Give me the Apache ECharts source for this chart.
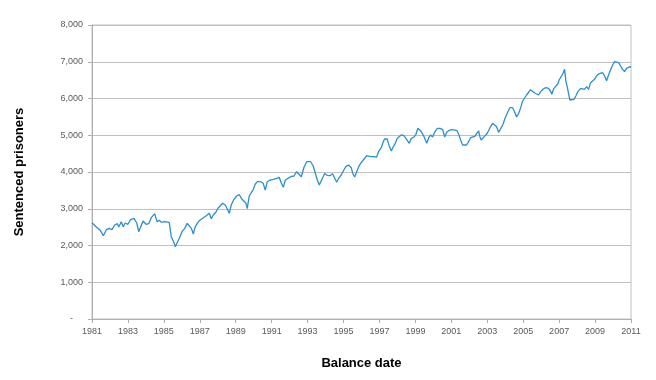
<!DOCTYPE html>
<html>
<head>
<meta charset="utf-8">
<script src="https://cdn.jsdelivr.net/npm/echarts@6/dist/echarts.min.js"></script>
<style>html,body{margin:0;padding:0;background:#fff}#c{width:656px;height:380px}</style>
</head>
<body>
<div id="c"></div>
<script>
// Balance dates (decimal years)
var dates = [
1981.00,1981.11,1981.28,1981.45,1981.63,1981.80,1981.96,1982.11,1982.26,1982.41,1982.49,1982.63,1982.74,1982.85,
1983.00,1983.15,1983.34,1983.49,1983.60,1983.71,1983.84,1984.01,1984.16,1984.30,1984.49,1984.62,1984.75,1984.86,
1985.05,1985.12,1985.30,1985.41,1985.52,1985.64,1985.75,1985.86,1986.01,1986.16,1986.30,1986.41,1986.53,1986.64,
1986.75,1986.86,1986.97,1987.16,1987.34,1987.53,1987.64,1987.75,1987.90,1988.01,1988.12,1988.27,1988.42,1988.53,
1988.64,1988.75,1988.90,1989.05,1989.20,1989.35,1989.46,1989.57,1989.64,1989.75,1989.86,1989.98,1990.09,1990.20,
1990.39,1990.53,1990.64,1990.76,1990.91,1991.09,1991.28,1991.42,1991.53,1991.65,1991.76,1991.91,1992.06,1992.24,
1992.39,1992.50,1992.65,1992.80,1992.95,1993.06,1993.17,1993.31,1993.43,1993.54,1993.65,1993.80,1993.95,1994.09,
1994.24,1994.39,1994.50,1994.62,1994.73,1994.87,1995.02,1995.13,1995.28,1995.43,1995.51,1995.62,1995.73,1995.87,
1996.02,1996.18,1996.29,1996.39,1996.51,1996.58,1996.69,1996.84,1996.95,1997.10,1997.21,1997.29,1997.43,1997.54,
1997.66,1997.77,1997.88,1997.99,1998.10,1998.21,1998.36,1998.47,1998.58,1998.66,1998.77,1998.92,1999.03,1999.14,
1999.21,1999.33,1999.48,1999.63,1999.74,1999.85,1999.96,2000.07,2000.22,2000.37,2000.52,2000.63,2000.74,2000.88,
2001.03,2001.14,2001.30,2001.41,2001.52,2001.63,2001.74,2001.85,2001.96,2002.07,2002.18,2002.30,2002.40,2002.52,
2002.59,2002.66,2002.78,2002.89,2003.00,2003.15,2003.30,2003.41,2003.52,2003.63,2003.74,2003.86,2004.00,2004.15,
2004.26,2004.41,2004.52,2004.63,2004.75,2004.86,2004.97,2005.08,2005.19,2005.30,2005.41,2005.52,2005.64,2005.75,
2005.86,2005.97,2006.11,2006.26,2006.41,2006.52,2006.59,2006.71,2006.82,2006.93,2007.00,2007.12,2007.23,2007.30,
2007.38,2007.45,2007.53,2007.60,2007.71,2007.82,2007.93,2008.05,2008.20,2008.31,2008.41,2008.53,2008.64,2008.75,
2008.86,2008.97,2009.08,2009.20,2009.31,2009.42,2009.53,2009.64,2009.75,2009.86,2009.98,2010.09,2010.20,2010.31,
2010.42,2010.53,2010.64,2010.75,2010.86,2010.94,2011.00
];
// Sentenced prisoners
var prisoners = [
2620,2577,2485,2420,2267,2430,2467,2430,2558,2594,2503,2648,2512,2612,
2577,2703,2740,2612,2376,2430,2667,2577,2594,2757,2866,2648,2685,2630,
2648,2648,2630,2240,2131,1967,1986,2195,2376,2467,2603,2621,2467,2313,
2512,2603,2675,2740,2803,2876,2730,2830,2912,3012,3056,3148,3102,3056,
2876,3102,3257,3347,3382,3257,3220,3148,3002,3347,3374,3529,3673,3736,
3736,3692,3510,3736,3782,3801,3828,3855,3709,3583,3782,3828,3872,3891,
4008,3981,3872,4128,4280,4253,4280,4163,3965,3782,3646,3800,3960,3910,
3900,3954,3900,3719,3828,3918,4054,4145,4190,4117,3965,3864,4008,4172,
4280,4373,4444,4482,4417,4373,4417,4408,4553,4661,4825,4898,4898,4716,
4571,4689,4781,4917,4952,5007,4988,4917,4934,4781,4917,4952,5026,5189,
5225,5097,4961,4781,4934,5007,4952,5080,5189,5189,5152,4952,5080,5134,
5152,5116,5134,5026,4862,4735,4771,4735,4825,4934,4988,4971,5043,5116,
4961,4871,4934,4898,5053,5206,5325,5325,5233,5080,5080,5279,5478,5641,
5750,5750,5641,5497,5597,5750,5932,5986,6095,6141,6240,6204,6150,6168,
6095,6186,6259,6295,6277,6204,6114,6277,6300,6400,6503,6600,6702,6794,
6458,6322,6122,5959,5995,5977,6068,6195,6277,6304,6250,6322,6250,6431,
6458,6522,6612,6667,6648,6702,6612,6485,6640,6776,6912,7003,7048,6976,
6884,6794,6730,6821,6812,6866,6848
];
var xTicks = {min: 1981, max: 2011, step: 2};
var yTicks = {min: 0, max: 8000, step: 1000};
var xTitle = 'Balance date';
var yTitle = 'Sentenced prisoners';

var seriesData = dates.map(function (d, i) { return [d, prisoners[i]]; });

var chart = echarts.init(document.getElementById('c'), null, {renderer: 'canvas'});
chart.setOption({
  animation: false,
  backgroundColor: '#ffffff',
  grid: {left: 92, right: 25, top: 25, bottom: 61, show: true, borderColor: '#c0c0c0', borderWidth: 1, containLabel: false},
  xAxis: {
    type: 'value', min: xTicks.min, max: xTicks.max, interval: xTicks.step,
    name: xTitle, nameLocation: 'middle', nameGap: 38,
    nameTextStyle: {fontFamily: 'Liberation Sans, Arial, sans-serif', fontSize: 13, fontWeight: 'bold', color: '#000'},
    axisLine: {show: true, lineStyle: {color: '#b0b0b0', width: 1}},
    axisTick: {show: true, length: 4, lineStyle: {color: '#b0b0b0'}},
    axisLabel: {fontFamily: 'Liberation Sans, Arial, sans-serif', fontSize: 9, color: '#595959', margin: 8,
      formatter: function (v) { return String(v); }},
    splitLine: {show: false}
  },
  yAxis: {
    type: 'value', min: yTicks.min, max: yTicks.max, interval: yTicks.step,
    name: yTitle, nameLocation: 'middle', nameGap: 66, nameRotate: 90,
    nameTextStyle: {fontFamily: 'Liberation Sans, Arial, sans-serif', fontSize: 13, fontWeight: 'bold', color: '#000'},
    axisLine: {show: true, lineStyle: {color: '#b0b0b0', width: 1}},
    axisTick: {show: true, length: 4, lineStyle: {color: '#b0b0b0'}},
    axisLabel: {fontFamily: 'Liberation Sans, Arial, sans-serif', fontSize: 9, color: '#595959', margin: 9,
      formatter: function (v) { return v === 0 ? '-    ' : v.toLocaleString('en-US'); }},
    splitLine: {show: true, lineStyle: {color: '#c0c0c0', width: 1}}
  },
  series: [{
    type: 'line', data: seriesData, showSymbol: false, symbol: 'none',
    lineStyle: {color: '#2b8fd0', width: 1.3}, smooth: false
  }]
});
</script>
</body>
</html>
